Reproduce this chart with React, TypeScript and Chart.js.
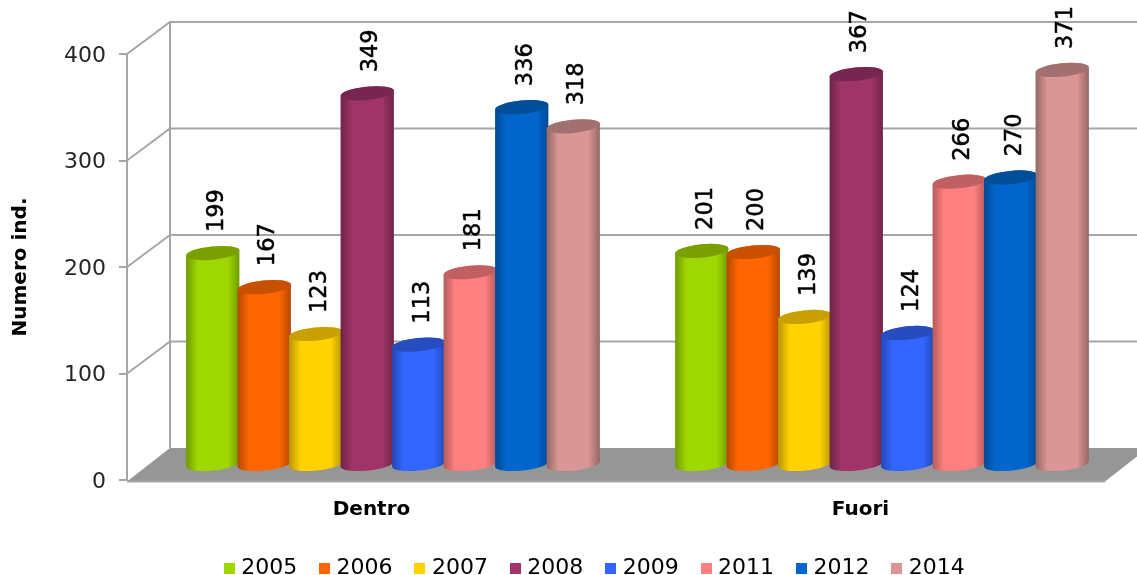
import React, { useEffect, useRef } from "react";
import { Chart, registerables } from "chart.js";

Chart.register(...registerables);

const categories = ["Dentro", "Fuori"];
const years = ["2005", "2006", "2007", "2008", "2009", "2011", "2012", "2014"];
const v2005 = [199, 201];
const v2006 = [167, 200];
const v2007 = [123, 139];
const v2008 = [349, 367];
const v2009 = [113, 124];
const v2011 = [181, 266];
const v2012 = [336, 270];
const v2014 = [318, 371];
const seriesValues = [v2005, v2006, v2007, v2008, v2009, v2011, v2012, v2014];
const bodyColors = ["#9FD800", "#FF6600", "#FFD200", "#A03468", "#3366FF", "#FF8080", "#0066CC", "#D99694"];
const edgeColors = ["#6E9A00", "#B34700", "#B89400", "#6E2447", "#2347B3", "#B35A5A", "#004A94", "#946665"];
const capColors = ["#79A000", "#C85000", "#C8A000", "#762650", "#264CC0", "#C06060", "#004D99", "#A37070"];

const FONT = "'DejaVu Sans'";
const GRID = "#A6A6A6";
const DX = 43; // depth of the 3D box
const DY = 32;
const TILT = -0.1;
const RY = 6.6;

const scene3d = {
  id: "scene3d",
  afterLayout(chart: any) {
    const legend = chart.legend;
    legend.left += 44;
    legend.right += 44;
    const h = legend.bottom - legend.top;
    legend.top = 557 - 26.4;
    legend.bottom = legend.top + h;
  },
  beforeDatasetsDraw(chart: any) {
    const { ctx, chartArea: a, scales } = chart;
    const y = scales.y;
    ctx.save();
    // floor
    ctx.fillStyle = "#969696";
    ctx.beginPath();
    ctx.moveTo(a.left, a.bottom + 1.5);
    ctx.lineTo(a.right, a.bottom + 1.5);
    ctx.lineTo(a.right + DX, a.bottom - DY);
    ctx.lineTo(a.left + DX, a.bottom - DY);
    ctx.closePath();
    ctx.fill();
    ctx.strokeStyle = GRID;
    ctx.lineWidth = 2;
    ctx.beginPath();
    ctx.moveTo(a.left, a.bottom + 1.5);
    ctx.lineTo(a.right, a.bottom + 1.5);
    ctx.stroke();
    // walls
    ctx.beginPath();
    ctx.moveTo(a.left + DX, y.getPixelForValue(0) - DY);
    ctx.lineTo(a.left + DX, y.getPixelForValue(400) - DY);
    for (const t of y.ticks) {
      const py = y.getPixelForValue(t.value);
      if (t.value > 0) {
        ctx.moveTo(a.left, py);
        ctx.lineTo(a.left + DX, py - DY);
        ctx.lineTo(a.right + DX, py - DY);
      }
    }
    ctx.stroke();

    // cylinders
    chart.data.datasets.forEach((ds: any, i: number) => {
      const meta = chart.getDatasetMeta(i);
      meta.data.forEach((el: any) => {
        const cx = el.x + DX / 2;
        const rx = (el.width / 2) * 1.04;
        const top = el.y - DY / 2 + 1;
        const base = el.base - DY / 2 + 1;
        const g = ctx.createLinearGradient(cx - rx, 0, cx + rx, 0);
        g.addColorStop(0, edgeColors[i]);
        g.addColorStop(0.22, bodyColors[i]);
        g.addColorStop(0.78, bodyColors[i]);
        g.addColorStop(1, edgeColors[i]);
        ctx.fillStyle = g;
        ctx.beginPath();
        ctx.ellipse(cx, base, rx, RY, TILT, 0, Math.PI);
        ctx.ellipse(cx, top, rx, RY, TILT, Math.PI, 2 * Math.PI);
        ctx.closePath();
        ctx.fill();
        ctx.fillStyle = capColors[i];
        ctx.beginPath();
        ctx.ellipse(cx, top, rx, RY, TILT, 0, 2 * Math.PI);
        ctx.fill();
      });
    });

    // value labels
    ctx.fillStyle = "#000";
    ctx.font = `22.5px ${FONT}`;
    ctx.textAlign = "left";
    ctx.textBaseline = "middle";
    chart.data.datasets.forEach((ds: any, i: number) => {
      const meta = chart.getDatasetMeta(i);
      meta.data.forEach((el: any, j: number) => {
        ctx.save();
        ctx.translate(el.x + DX / 2 + 4, el.y - DY / 2 - 20);
        ctx.rotate(-Math.PI / 2);
        ctx.fillText(String(ds.data[j]), 0, 0);
        ctx.strokeStyle = "#000";
        ctx.lineWidth = 0.5;
        ctx.strokeText(String(ds.data[j]), 0, 0);
        ctx.restore();
      });
    });
    ctx.restore();
    return false;
  },
};

function legendSwatch(color: string) {
  const c = document.createElement("canvas");
  c.width = 11;
  c.height = 11;
  const x = c.getContext("2d")!;
  x.fillStyle = color;
  x.fillRect(0, 0, 11, 11);
  return c;
}

export default function App() {
  const ref = useRef<HTMLCanvasElement>(null);
  useEffect(() => {
    document.body.style.margin = "0";
    const chart = new Chart(ref.current!, {
      type: "bar",
      data: {
        labels: categories,
        datasets: years.map((label, i) => ({
          label,
          data: seriesValues[i],
          backgroundColor: bodyColors[i],
          barPercentage: 1,
          categoryPercentage: 0.8425,
        })),
      },
      plugins: [scene3d],
      options: {
        animation: false,
        responsive: false,
        devicePixelRatio: 1,
        layout: { padding: { top: 54, right: 32, bottom: 0, left: 0 } },
        scales: {
          x: {
            grid: { display: false },
            border: { display: false },
            afterFit: (s: any) => {
              s.height = 95 - s.chart.legend.height;
            },
            ticks: {
              color: "#000",
              padding: 10,
              font: { family: FONT, size: 20, weight: "bold" },
            },
          },
          y: {
            min: 0,
            max: 400,
            afterFit: (s: any) => {
              s.width = 127;
            },
            grid: { drawOnChartArea: false, color: GRID, lineWidth: 2, tickLength: 8 },
            border: { color: GRID, width: 2 },
            title: {
              display: true,
              text: "Numero ind.",
              color: "#000",
              padding: { top: 9, bottom: 0 },
              font: { family: FONT, size: 20, weight: "bold" },
            },
            ticks: {
              stepSize: 100,
              color: "#262626",
              padding: 13,
              labelOffset: 2,
              font: { family: FONT, size: 22 },
            },
          },
        },
        plugins: {
          tooltip: { enabled: false },
          legend: {
            position: "bottom",
            labels: {
              usePointStyle: true,
              pointStyleWidth: 2,
              padding: 26.4,
              color: "#262626",
              font: { family: FONT, size: 22 },
              generateLabels: (c: any) =>
                c.data.datasets.map((d: any, i: number) => ({
                  text: d.label,
                  fillStyle: d.backgroundColor,
                  strokeStyle: d.backgroundColor,
                  pointStyle: legendSwatch(d.backgroundColor),
                  lineWidth: 0,
                  datasetIndex: i,
                })),
            },
          },
        },
      },
    } as any);
    return () => chart.destroy();
  }, []);
  return <canvas ref={ref} width={1137} height={575} style={{ display: "block" }} />;
}
